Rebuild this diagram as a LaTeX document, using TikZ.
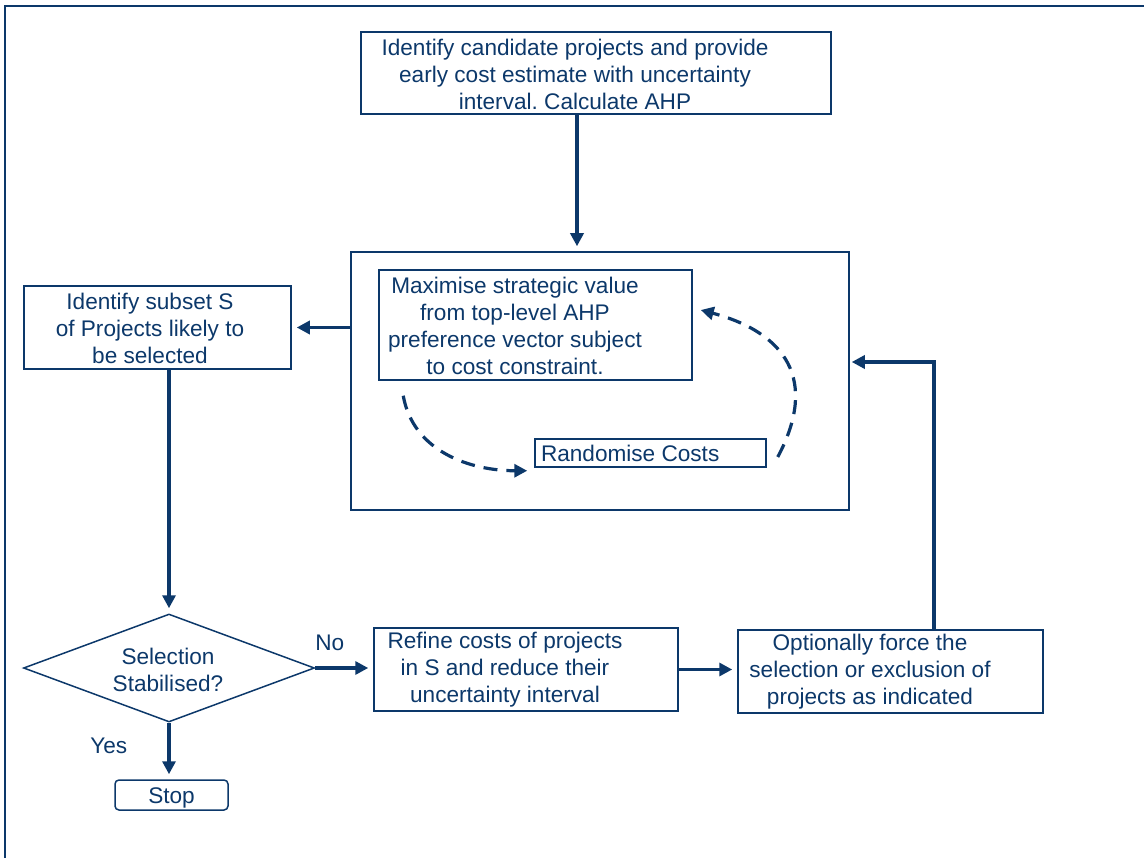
\documentclass[tikz,border=0pt]{standalone}
\usepackage{fontspec}
\setmainfont{Liberation Sans}
\usetikzlibrary{arrows.meta,shapes.geometric}
\definecolor{navy}{RGB}{12,56,106}
\frenchspacing
\tikzset{
	box/.style={draw=navy,line width=1.5pt,inner sep=0pt},
	txt/.style={align=center,inner sep=0pt},
	flow/.style={->,line width=3.6pt,shorten >=5pt},
	loop/.style={->,line width=3.2pt,dash pattern=on 14pt off 9pt},
	lbl/.style={inner sep=2pt}
}
\begin{document}
\begin{tikzpicture}[x=1pt,y=-1pt,color=navy,line join=miter,
		font=\fontsize{22.6}{27}\selectfont,
		>={Triangle[length=13pt,width=13pt]}]
	\useasboundingbox (0,0) rectangle (1144,858);
	% frame
	\draw[line width=1.6pt] (5,858)--(5,6)--(1144,6);
	% boxes
	\node[box,minimum width=470,minimum height=82] (top) at (596,73) {};
	\node[txt] (top-t) at (575,74) {Identify candidate projects and provide\\early cost estimate with uncertainty\\interval. Calculate AHP};
	\node[box,minimum width=498,minimum height=258] (run) at (600,381) {};
	\node[box,minimum width=313,minimum height=110] (max) at (535.5,325) {};
	\node[txt] (max-t) at (515,326) {Maximise strategic value\\from top-level AHP\\preference vector subject\\to cost constraint.};
	\node[box,minimum height=28,text width=219,inner xsep=6pt,align=flush left] (rand) at (650.5,453) {Randomise Costs};
	\node[box,minimum width=267,minimum height=83] (subset) at (157.5,327.5) {};
	\node[txt] (subset-t) at (150,328) {Identify subset S\\of Projects likely to\\be selected};
	\node[box,diamond,aspect=2.7,minimum width=291,minimum height=108] (dec) at (169,668) {};
	\node[txt] (dec-t) at (168,670) {Selection\\Stabilised?};
	\node[box,minimum width=304,minimum height=83] (refine) at (526,669.5) {};
	\node[txt] (refine-t) at (505,670) {Refine costs of projects\\in S and reduce their\\uncertainty interval};
	\node[box,minimum width=305,minimum height=83] (force) at (890.5,671.5) {};
	\node[txt] (force-t) at (870,672) {Optionally force the\\selection or exclusion of\\projects as indicated};
	\node[box,rounded corners=4pt,minimum width=113,minimum height=30] (stop) at (171.5,795) {};
	\node[txt] (stop-t) at (171.5,798) {Stop};
	% connectors
	\draw[flow] ([xshift=-19pt]top.south)--([xshift=-23pt]run.north);
	\draw[flow] (run.west |- subset.east)--(subset.east);
	\draw[flow] (subset.south -| dec.north)--(dec.north);
	\draw[flow] (dec.east)--(dec.east -| refine.west)
		node[lbl,pos=0.25,above=13pt] (no) {No};
	\draw[flow] (refine.east)--(refine.east -| force.west);
	\draw[flow,shorten >=2pt] ([xshift=43.5pt]force.north) |- ([yshift=19pt]run.east);
	\draw[flow] (dec.south)--(dec.south |- stop.north)
		node[lbl,pos=0.4,left=38pt] (yes) {Yes};
	% randomisation loop
	\draw[loop] ([shift={(25,15)}]max.south west) to[out=-80,in=180] ([shift={(-7,3)}]rand.south west);
	\draw[loop] ([shift={(11,4)}]rand.east) to[out=62,in=-15,looseness=1.35] ([shift={(8,-15)}]max.east);
\end{tikzpicture}
\end{document}
